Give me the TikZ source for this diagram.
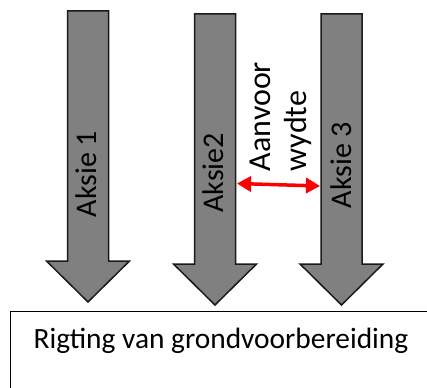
\documentclass[tikz,border=0pt]{standalone}
\usepackage{fontspec}
\setmainfont{Carlito}
\usepackage{tikz}
\usetikzlibrary{arrows.meta}
\definecolor{AksieFill}{HTML}{808080}
\definecolor{AksieLine}{HTML}{1A1A1A}
\definecolor{WydteRed}{HTML}{FF0000}

\begin{document}
\begin{tikzpicture}[x=1pt,y=-1pt,
    aksie/.style={fill=AksieFill,draw=AksieLine,line width=1.5pt,line join=miter},
    lbl/.style={rotate=90,inner sep=0pt,font=\fontsize{30}{36}\selectfont}]
      \useasboundingbox (0,0) rectangle (427,387);
      % die drie aksiepyle
      \foreach \x/\t/\n/\ly/\lx/\txt in {88/11/1/174/86.5/Aksie 1,215/14/2/173/213.5/Aksie2,341.5/14/3/165/341/Aksie 3} {
        \draw[aksie] (\x-20.5,\t) -- (\x+20.5,\t) -- (\x+20.5,\t+250) -- (\x+41.5,\t+250)
          -- (\x,\t+291) -- (\x-41.5,\t+250) -- (\x-20.5,\t+250) -- cycle;
        \node[lbl] (aksie\n) at (\lx,\ly) {\txt};
      }
      \node[lbl,align=left,font=\fontsize{32}{36}\selectfont] (wydte) at (281,116.5) {Aanvoor\\wydte};
      \coordinate (gapL) at (237,183.5);
      \coordinate (gapR) at (320,186);
      \draw[WydteRed,line width=3.5pt,{Triangle[length=14pt,width=15pt]}-{Triangle[length=14pt,width=15pt]}] (gapL) -- (gapR);
      \node[draw,line width=1pt,anchor=north west,minimum width=440,minimum height=100] (grond) at (10,311) {};
      \node[inner sep=0pt,font=\fontsize{29.4}{35}\selectfont] (rigting) at (221,341) {Rigting van grondvoorbereiding};
    \end{tikzpicture}
\end{document}
